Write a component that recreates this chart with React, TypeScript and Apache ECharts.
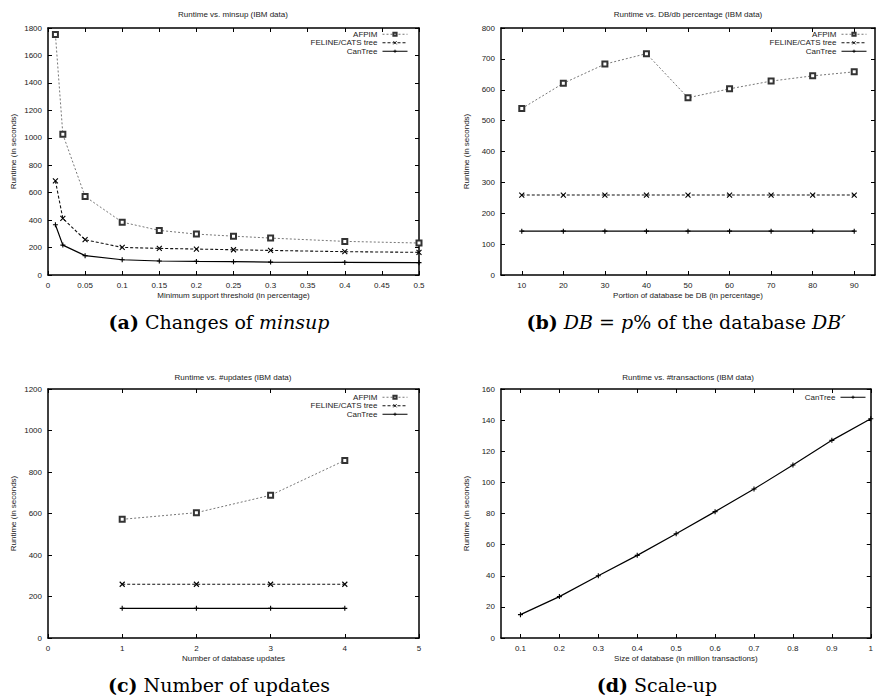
import React, { useEffect, useRef } from "react";
import * as echarts from "echarts";

// Panel (a): Runtime vs. minsup
const aX = [0.01, 0.02, 0.05, 0.1, 0.15, 0.2, 0.25, 0.3, 0.4, 0.5];
const aAFPIM = [1752, 1025, 572, 385, 325, 298, 283, 269, 245, 233];
const aFELINE = [686, 412, 257, 201, 194, 189, 184, 179, 170, 165];
const aCanTree = [366, 218, 141, 111, 102, 99, 97, 94, 92, 90];

// Panel (b): Runtime vs. DB/db percentage
const bX = [10, 20, 30, 40, 50, 60, 70, 80, 90];
const bAFPIM = [539, 621, 683, 717, 574, 603, 628, 645, 658];
const bFELINE = [259, 259, 259, 259, 259, 259, 259, 259, 259];
const bCanTree = [142, 142, 142, 142, 142, 142, 142, 142, 142];

// Panel (c): Runtime vs. #updates
const cX = [1, 2, 3, 4];
const cAFPIM = [572, 604, 688, 856];
const cFELINE = [259, 259, 259, 259];
const cCanTree = [143, 143, 143, 143];

// Panel (d): Runtime vs. #transactions
const dX = [0.1, 0.2, 0.3, 0.4, 0.5, 0.6, 0.7, 0.8, 0.9, 1.0];
const dCanTree = [15, 26.6, 40, 53.1, 67, 81.2, 95.7, 111.2, 127, 140.9];

const bTicks = [10, 20, 30, 40, 50, 60, 70, 80, 90];
const dTicks = [0.1, 0.2, 0.3, 0.4, 0.5, 0.6, 0.7, 0.8, 0.9, 1.0];

const titles = [
  "Runtime vs. minsup (IBM data)",
  "Runtime vs. DB/db percentage (IBM data)",
  "Runtime vs. #updates (IBM data)",
  "Runtime vs. #transactions (IBM data)",
];
const xNames = [
  "Minimum support threshold (in percentage)",
  "Portion of database be DB (in percentage)",
  "Number of database updates",
  "Size of database (in million transactions)",
];
const yName = "Runtime (in seconds)";

const SANS = '"Liberation Sans", Arial, sans-serif';
const SERIF = '"DejaVu Serif", serif';
const X_SYM = "path://M0,0L10,10M10,0L0,10";
const PLUS_SYM = "path://M5,0L5,10M0,5L10,5";

const fmt = (v: number) => String(parseFloat(v.toFixed(2)));

export default function App() {
  const ref = useRef<HTMLDivElement>(null);
  useEffect(() => {
    if (!ref.current) return;
    const chart = echarts.init(ref.current, null, { renderer: "svg" });

    const grids = [
      { left: 48, top: 28, width: 371, height: 247 },
      { left: 501, top: 28, width: 374, height: 247 },
      { left: 48, top: 389, width: 371, height: 249 },
      { left: 501, top: 389, width: 374, height: 249 },
    ];
    const xCfg: any[] = [
      { min: 0, max: 0.5, interval: 0.05 },
      { min: 5, max: 95, custom: bTicks },
      { min: 0, max: 5, interval: 1 },
      { min: 0.05, max: 1.0, custom: dTicks },
    ];
    const yCfg = [
      { min: 0, max: 1800, interval: 200 },
      { min: 0, max: 800, interval: 100 },
      { min: 0, max: 1200, interval: 200 },
      { min: 0, max: 160, interval: 20 },
    ];
    const lw = 1.5;
    const xAxes: any[] = [];
    const yAxes: any[] = [];
    grids.forEach((_, i) => {
      const xc = xCfg[i];
      const base: any = {
        type: "value",
        gridIndex: i,
        min: xc.min,
        max: xc.max,
        splitLine: { show: false },
        axisLine: { show: true, onZero: false, lineStyle: { color: "#000", width: lw } },
      };
      if (xc.interval) base.interval = xc.interval;
      const tick: any = { show: true, inside: true, length: 4, lineStyle: { color: "#000", width: 1 } };
      const label: any = {
        show: true,
        color: "#222",
        fontFamily: SANS,
        fontSize: 8,
        margin: 6,
        formatter: fmt,
      };
      if (xc.custom) {
        tick.customValues = xc.custom;
        label.customValues = xc.custom;
      }
      xAxes.push({
        ...base,
        position: "bottom",
        axisTick: tick,
        axisLabel: label,
        name: xNames[i],
        nameLocation: "middle",
        nameGap: 16,
        nameTextStyle: { color: "#222", fontFamily: SANS, fontSize: 8 },
      });
      xAxes.push({
        ...base,
        position: "top",
        axisTick: tick,
        axisLabel: { show: false, customValues: xc.custom },
      });
      const yc = yCfg[i];
      const ybase: any = {
        type: "value",
        gridIndex: i,
        min: yc.min,
        max: yc.max,
        interval: yc.interval,
        splitLine: { show: false },
        axisLine: { show: true, onZero: false, lineStyle: { color: "#000", width: lw } },
        axisTick: { show: true, inside: true, length: 4, lineStyle: { color: "#000", width: 1 } },
      };
      yAxes.push({
        ...ybase,
        position: "left",
        axisLabel: {
          show: true,
          color: "#222",
          fontFamily: SANS,
          fontSize: 8,
          margin: 6,
          formatter: (v: number) => String(v),
        },
        name: yName,
        nameLocation: "middle",
        nameGap: 31,
        nameRotate: 90,
        nameTextStyle: { color: "#222", fontFamily: SANS, fontSize: 8 },
      });
      yAxes.push({ ...ybase, position: "right", axisLabel: { show: false } });
    });

    const afpim = (i: number, xs: number[], ys: number[]) => ({
      name: "AFPIM",
      type: "line",
      xAxisIndex: 2 * i,
      yAxisIndex: 2 * i,
      data: xs.map((x, k) => [x, ys[k]]),
      symbol: "emptyRect",
      symbolSize: 5,
      showAllSymbol: true,
      lineStyle: { color: "#777", width: 1, type: [2, 2] },
      itemStyle: { color: "#333", borderColor: "#333", borderWidth: 0.9 },
      z: 3,
    });
    const feline = (i: number, xs: number[], ys: number[]) => ({
      name: "FELINE/CATS tree",
      type: "line",
      xAxisIndex: 2 * i,
      yAxisIndex: 2 * i,
      data: xs.map((x, k) => [x, ys[k]]),
      symbol: X_SYM,
      symbolSize: 5,
      showAllSymbol: true,
      lineStyle: { color: "#111", width: 1.1, type: [3, 2] },
      itemStyle: { color: "#000", borderColor: "#000", borderWidth: 1.1 },
      z: 4,
    });
    const cantree = (i: number, xs: number[], ys: number[]) => ({
      name: "CanTree",
      type: "line",
      xAxisIndex: 2 * i,
      yAxisIndex: 2 * i,
      data: xs.map((x, k) => [x, ys[k]]),
      symbol: PLUS_SYM,
      symbolSize: 5,
      showAllSymbol: true,
      lineStyle: { color: "#000", width: 1.2, type: "solid" },
      itemStyle: { color: "#000", borderColor: "#000", borderWidth: 1.1 },
      z: 5,
    });

    const series = [
      afpim(0, aX, aAFPIM),
      feline(0, aX, aFELINE),
      cantree(0, aX, aCanTree),
      afpim(1, bX, bAFPIM),
      feline(1, bX, bFELINE),
      cantree(1, bX, bCanTree),
      afpim(2, cX, cAFPIM),
      feline(2, cX, cFELINE),
      cantree(2, cX, cCanTree),
      cantree(3, dX, dCanTree),
    ];

    const legendBase: any = {
      orient: "vertical",
      align: "right",
      padding: 0,
      itemGap: 0,
      itemWidth: 25,
      itemHeight: 4,
      selectedMode: false,
      itemStyle: { borderWidth: 0.9 },
      lineStyle: { width: 1 },
      textStyle: { color: "#222", fontFamily: SANS, fontSize: 8, lineHeight: 8.5 },
    };
    const three = ["AFPIM", "FELINE/CATS tree", "CanTree"];
    const legends = [
      { ...legendBase, data: three, right: 468, top: 30 },
      { ...legendBase, data: three, right: 9, top: 30 },
      { ...legendBase, data: three, right: 468, top: 393 },
      { ...legendBase, data: ["CanTree"], right: 10, top: 393 },
    ];

    const titlePos = [
      [233, 14],
      [688, 14],
      [233, 377],
      [688, 377],
    ];
    const graphics: any[] = titlePos.map((p, i) => ({
      type: "text",
      x: p[0],
      y: p[1],
      style: {
        text: titles[i],
        align: "center",
        verticalAlign: "middle",
        fontFamily: SANS,
        fontSize: 8,
        fill: "#222",
      },
    }));
    const CF = 19;
    const rich = {
      b: { fontFamily: SERIF, fontSize: CF, fontWeight: "bold", fill: "#000" },
      i: { fontFamily: SERIF, fontSize: CF, fontStyle: "italic", fill: "#000" },
    };
    const captions = [
      { x: 219, y: 322, text: "{b|(a)} Changes of {i|minsup}" },
      { x: 686, y: 322, text: "{b|(b)} {i|DB} = {i|p}% of the database {i|DB′}" },
      { x: 219, y: 685, text: "{b|(c)} Number of updates" },
      { x: 657, y: 685, text: "{b|(d)} Scale-up" },
    ];
    captions.forEach((c) =>
      graphics.push({
        type: "text",
        x: c.x,
        y: c.y,
        style: {
          text: c.text,
          rich,
          align: "center",
          verticalAlign: "middle",
          fontFamily: SERIF,
          fontSize: CF,
          fill: "#000",
        },
      })
    );

    chart.setOption({
      animation: false,
      backgroundColor: "#fff",
      grid: grids,
      xAxis: xAxes,
      yAxis: yAxes,
      legend: legends,
      series,
      graphic: graphics,
    });
    return () => chart.dispose();
  }, []);
  return (
    <div
      ref={ref}
      style={{ position: "absolute", left: 0, top: 0, width: 876, height: 697 }}
    />
  );
}
